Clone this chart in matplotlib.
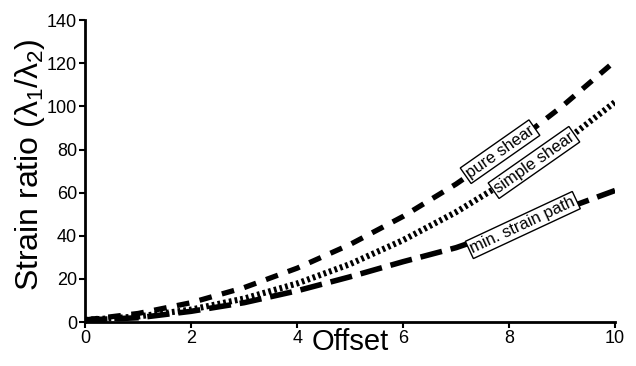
import matplotlib
matplotlib.use("Agg")
from matplotlib import pyplot as plt

plt.rcParams['font.family'] = ['Liberation Sans', 'DejaVu Sans']
plt.rcParams['mathtext.fontset'] = 'custom'
plt.rcParams['mathtext.rm'] = 'Liberation Sans'
plt.rcParams['mathtext.it'] = 'Liberation Sans'

# Strain ratio vs offset
offset = [0, 1, 2, 3, 4, 5, 6, 7, 8, 9, 10]
pure_shear = [1, 4, 9, 16, 25, 36, 49, 64, 81, 100, 121]
simple_shear = [1, 2.6, 5.8, 10.9, 17.9, 26.9, 38, 51, 66, 83, 102]
min_strain = [1, 2, 5, 9, 14.5, 21, 28, 34.5, 43, 52, 61]

fig = plt.figure(figsize=(6.36, 3.66), dpi=100)
ax = fig.add_axes([0.134, 0.12, 0.833, 0.825])

ax.plot(offset, pure_shear, color='black', lw=3.8, linestyle=(0, (2.4, 2.0)),
        dash_capstyle='butt')
ax.plot(offset, simple_shear, color='black', lw=4.4, linestyle=(0, (0.45, 0.5)),
        dash_capstyle='butt')
ax.plot(offset, min_strain, color='black', lw=4.0, linestyle=(0, (4.0, 1.6)),
        dash_capstyle='butt')

box = dict(boxstyle='square,pad=0.12', fc='white', ec='black', lw=1)
ax.text(7.83, 79, 'pure shear', rotation=35, ha='center', va='center',
        fontsize=12, bbox=box, rotation_mode='anchor')
ax.text(8.47, 74, 'simple shear', rotation=35, ha='center', va='center',
        fontsize=12, bbox=box, rotation_mode='anchor')
ax.text(8.26, 45, 'min. strain path', rotation=25, ha='center', va='center',
        fontsize=12, bbox=box, rotation_mode='anchor')

ax.set_xlim(0, 10)
ax.set_ylim(0, 140)
ax.set_xticks([0, 2, 4, 6, 8, 10])
ax.set_yticks(range(0, 141, 20))
ax.spines['top'].set_visible(False)
ax.spines['right'].set_visible(False)
ax.spines['left'].set_linewidth(2)
ax.spines['bottom'].set_linewidth(2)
ax.tick_params(width=1.5, length=4, labelsize=13, pad=2)

ax.set_xlabel('Offset', fontsize=21)
ax.xaxis.set_label_coords(0.5, -0.02)
ax.set_ylabel(r'Strain ratio ($\lambda_1/\lambda_2$)', fontsize=23)
ax.yaxis.set_label_coords(-0.072, 0.52)

fig.savefig('out.png', dpi=100)
